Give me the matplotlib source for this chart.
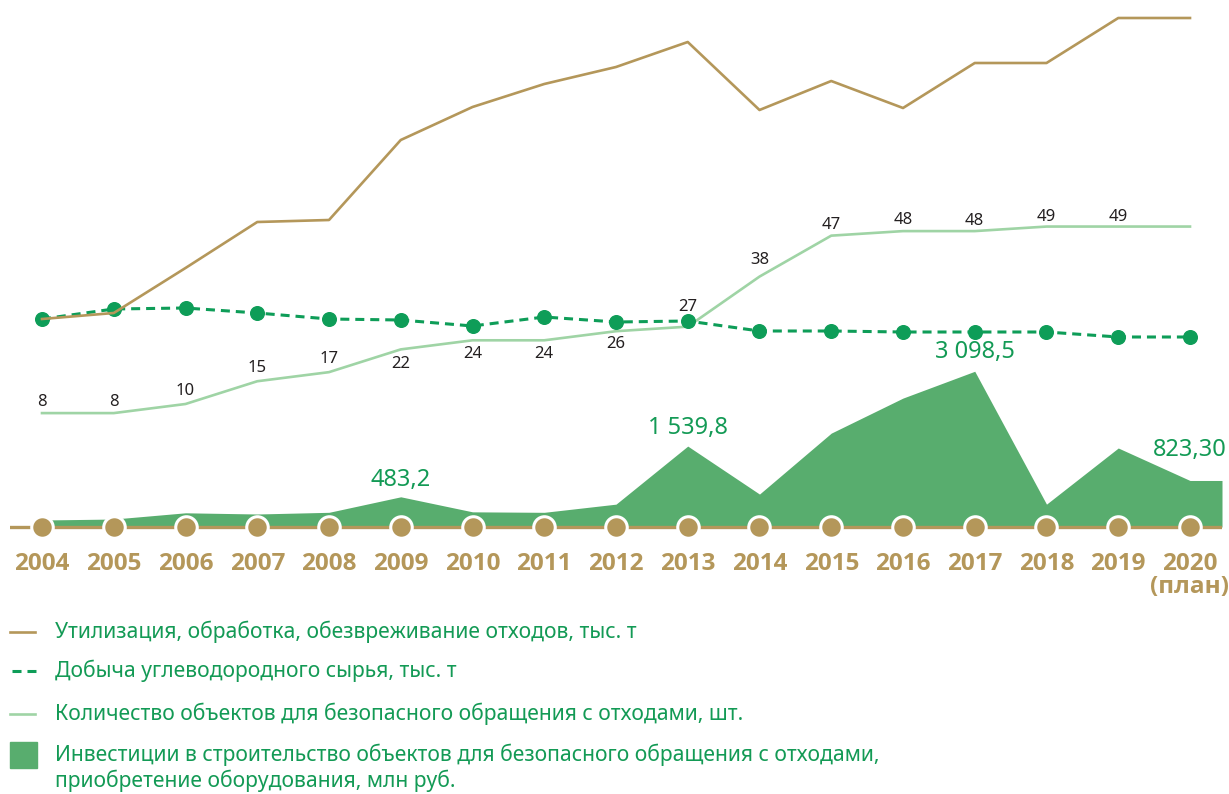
import matplotlib
matplotlib.use('Agg')
import matplotlib.pyplot as plt
from matplotlib.lines import Line2D
from matplotlib.patches import Rectangle

W, H = 1229, 794
plt.rcParams['font.family'] = ['Noto Sans', 'DejaVu Sans']

# data
years = list(range(2004, 2021))
year_labels = [str(y) for y in years[:-1]] + ['2020\n(план)']

# утилизация, тыс. т (значения на картинке не подписаны - оценка по графику)
waste = [131, 137, 182, 228, 230, 310, 343, 366, 383, 408, 340, 369, 342, 387, 387, 432, 432]
# добыча углеводородного сырья, тыс. т (оценка)
extraction = [131, 141, 142, 137, 131, 130, 124, 133, 128, 129, 119, 119, 118, 118, 118, 113, 113]
# количество объектов, шт.
objects = [8, 8, 10, 15, 17, 22, 24, 24, 26, 27, 38, 47, 48, 48, 49, 49, 49]
# инвестиции, млн руб.
investment = [0, 20, 150, 125, 160, 483.2, 170, 160, 330, 1539.8, 540, 1810, 2540, 3098.5, 330, 1500, 823.3]
inv_labels = {2009: '483,2', 2013: '1 539,8', 2017: '3 098,5', 2020: '823,30'}

legend_labels = [
    'Утилизация, обработка, обезвреживание отходов, тыс. т',
    'Добыча углеводородного сырья, тыс. т',
    'Количество объектов для безопасного обращения с отходами, шт.',
    'Инвестиции в строительство объектов для безопасного обращения с отходами,\nприобретение оборудования, млн руб.',
]

# styles
BROWN = '#B4975A'
DARK_GREEN = '#0E9D58'
LIGHT_GREEN = '#9FD4A5'
AREA_GREEN = '#58AD6E'
TEXT_GREEN = '#139A55'
DARK = '#231F20'

# label offsets in px (positive = above)
obj_offsets = [11, 11, 13, 13, 13, -15, -14, -14, -13, 20, 17, 11, 11, 10, 10, 10]
inv_offsets = {2009: 17, 2013: 18, 2017: 19, 2020: 30}

AX_TOP, AX_BOTTOM = 0, 545


def set_scale(a, zero_px, px_per_unit):
    a.set_ylim((zero_px - AX_BOTTOM) / px_per_unit, (zero_px - AX_TOP) / px_per_unit)


def fy(y):
    return 1 - y / H


fig = plt.figure(figsize=(W / 100, H / 100), dpi=100)
ax = fig.add_axes([10 / W, 1 - AX_BOTTOM / H, 1212 / W, (AX_BOTTOM - AX_TOP) / H])
ax.set_xlim(2003.554, 2020.446)
xmin, xmax = ax.get_xlim()

# area: investments
set_scale(ax, 520, 0.048)
base_val = (520 - 527) / 0.048
ax.fill_between(years + [xmax], investment + [investment[-1]], base_val,
                color=AREA_GREEN, lw=0, zorder=1)
ax.plot([xmin, xmax], [base_val, base_val], color=BROWN, lw=2.4, zorder=3)
ax.plot(years, [base_val] * len(years), 'o', ms=15.5, mfc=BROWN, mec='white', mew=2.2, zorder=4)
for yr, txt in inv_labels.items():
    i = years.index(yr)
    ax.annotate(txt, (yr, investment[i]), xytext=(0, inv_offsets[yr] * 0.72),
                textcoords='offset points', ha='center', va='center',
                fontsize=17, color=TEXT_GREEN)

ax.set_xticks(years)
ax.set_xticklabels(year_labels)
for t in ax.get_xticklabels():
    t.set_fontfamily(['Open Sans', 'DejaVu Sans'])
    t.set_fontweight('bold')
    t.set_fontsize(17.5)
    t.set_color(BROWN)
    t.set_linespacing(0.95)
ax.tick_params(axis='x', length=0, pad=5)
ax.set_yticks([])
for s in ax.spines.values():
    s.set_visible(False)

# objects count
ax_obj = ax.twinx()
set_scale(ax_obj, 449.5, 4.55)
ax_obj.plot(years, objects, color=LIGHT_GREEN, lw=1.9)
for i, off in enumerate(obj_offsets):
    ax_obj.annotate(str(objects[i]), (years[i], objects[i]), xytext=(0, off * 0.72),
                    textcoords='offset points', ha='center', va='center',
                    fontsize=12, color=DARK)
ax_obj.axis('off')

# thousand tonnes
ax_t = ax.twinx()
set_scale(ax_t, 450, 1)
ax_t.plot(years, extraction, color=DARK_GREEN, lw=2.2, dashes=(2.95, 1.95),
          marker='o', ms=9.8, mec=DARK_GREEN, mfc=DARK_GREEN)
ax_t.plot(years, waste, color=BROWN, lw=1.9)
ax_t.axis('off')

# legend
leg_y = [632, 671, 714]
fig.add_artist(Line2D([10 / W, 35 / W], [fy(leg_y[0])] * 2, color=BROWN, lw=1.9))
fig.add_artist(Line2D([12 / W, 37 / W], [fy(leg_y[1])] * 2, color=DARK_GREEN, lw=2.2,
                      dashes=(2.95, 1.95)))
fig.add_artist(Line2D([10 / W, 35 / W], [fy(leg_y[2])] * 2, color=LIGHT_GREEN, lw=1.9))
fig.add_artist(Rectangle((10 / W, fy(768)), 27 / W, 26 / H, transform=fig.transFigure,
                         color=AREA_GREEN))
for y, lab in zip(leg_y, legend_labels[:3]):
    fig.text(55 / W, fy(y), lab, va='center', ha='left', fontsize=15.2, color=TEXT_GREEN)
fig.text(55 / W, fy(767.5), legend_labels[3], va='center', ha='left', fontsize=15.2,
         color=TEXT_GREEN, linespacing=1.2)

fig.savefig('out.png', dpi=100)
